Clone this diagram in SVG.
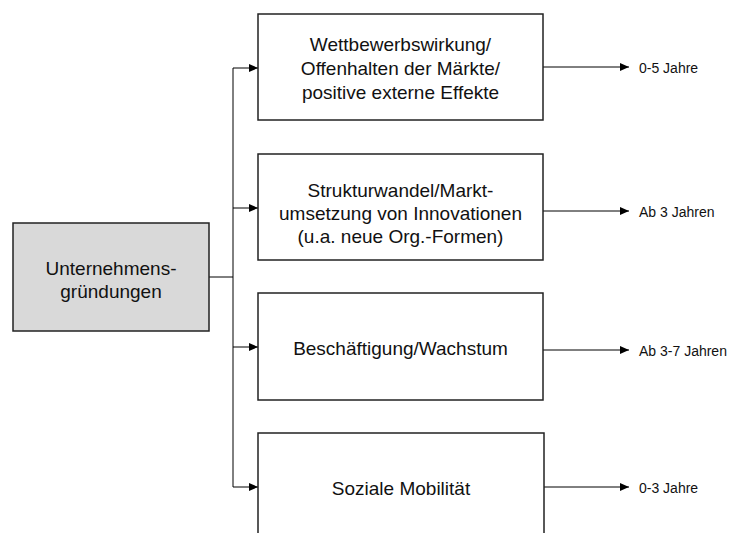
<svg xmlns="http://www.w3.org/2000/svg" width="733" height="533" viewBox="0 0 733 533">
<style>
.box{fill:#ffffff;stroke:#222;stroke-width:1.5}
.root{fill:#d9d9d9;stroke:#222;stroke-width:1.5}
.t{font-family:"Liberation Sans",Arial,sans-serif;font-size:19px;fill:#111;text-anchor:middle}
.lbl{font-family:"Liberation Sans",Arial,sans-serif;font-size:14px;fill:#111}
.c{fill:none;stroke:#000;stroke-width:1}
</style>
<defs>
<marker id="ah" markerWidth="10" markerHeight="8" refX="9" refY="4" orient="auto" markerUnits="userSpaceOnUse">
<path d="M0,0 L9,4 L0,8 Z" fill="#000"/>
</marker>
</defs>
<rect width="733" height="533" fill="#fff"/>
<g id="connectors">
<path class="c" d="M209,277 H233"/>
<path class="c" d="M233,68 V487"/>
<path class="c" d="M233,68 H258" marker-end="url(#ah)"/>
<path class="c" d="M233,208 H258" marker-end="url(#ah)"/>
<path class="c" d="M233,347 H258" marker-end="url(#ah)"/>
<path class="c" d="M233,487 H258" marker-end="url(#ah)"/>
<path class="c" d="M543,67 H629" marker-end="url(#ah)"/>
<path class="c" d="M543,211 H629" marker-end="url(#ah)"/>
<path class="c" d="M543,350 H629" marker-end="url(#ah)"/>
<path class="c" d="M544,487 H629" marker-end="url(#ah)"/>
</g>
<g id="root">
<rect class="root" x="13" y="223" width="196" height="108"/>
<text class="t" x="111" y="275">Unternehmens-</text>
<text class="t" x="111" y="298">gründungen</text>
</g>
<g id="n1">
<rect class="box" x="258" y="14" width="285" height="106"/>
<text class="t" x="400.5" y="51">Wettbewerbswirkung/</text>
<text class="t" x="400.5" y="75">Offenhalten der Märkte/</text>
<text class="t" x="400.5" y="99">positive externe Effekte</text>
</g>
<g id="n2">
<rect class="box" x="258" y="154" width="285" height="106"/>
<text class="t" x="400.5" y="197">Strukturwandel/Markt-</text>
<text class="t" x="400.5" y="220">umsetzung von Innovationen</text>
<text class="t" x="400.5" y="243">(u.a. neue Org.-Formen)</text>
</g>
<g id="n3">
<rect class="box" x="258" y="293" width="285" height="107"/>
<text class="t" x="400.5" y="355">Beschäftigung/Wachstum</text>
</g>
<g id="n4">
<rect class="box" x="258" y="433" width="286" height="110"/>
<text class="t" x="401" y="495">Soziale Mobilität</text>
</g>
<g id="labels">
<text class="lbl" x="639" y="73">0-5 Jahre</text>
<text class="lbl" x="639" y="217">Ab 3 Jahren</text>
<text class="lbl" x="639" y="356">Ab 3-7 Jahren</text>
<text class="lbl" x="639" y="493">0-3 Jahre</text>
</g>
</svg>
